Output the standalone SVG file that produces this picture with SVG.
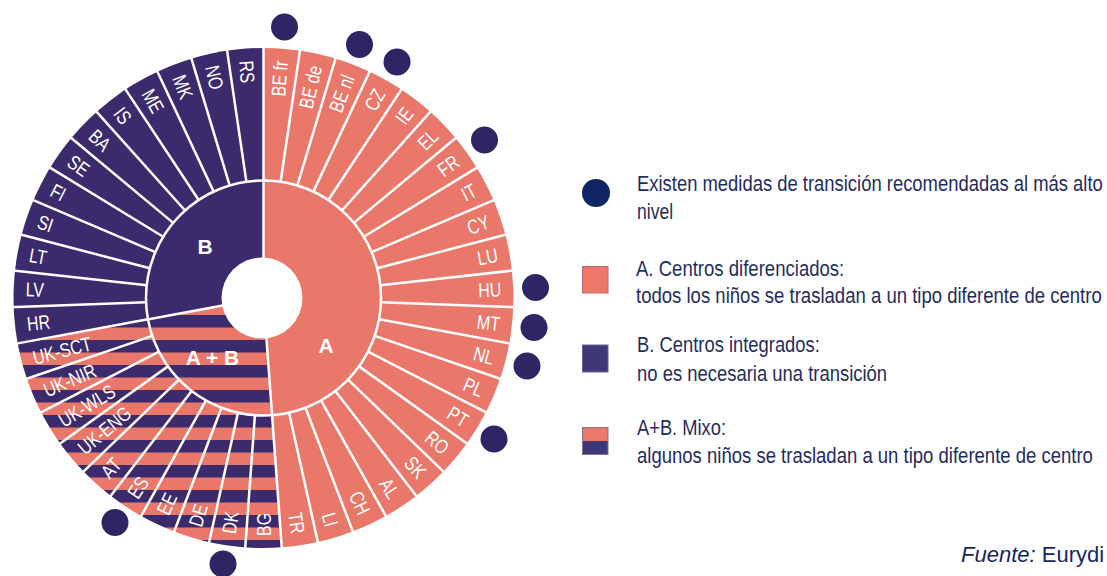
<svg xmlns="http://www.w3.org/2000/svg" xmlns:xlink="http://www.w3.org/1999/xlink" width="1107" height="576" viewBox="0 0 1107 576">
<style>
.pA{fill:#e9786a}
.pB{fill:#3b2b6c}
.sep{stroke:#fff;stroke-width:2.5}
.lbl{font-family:"Liberation Sans",Arial,sans-serif;font-size:20px;fill:#fff}
.r{text-anchor:end}
.l{text-anchor:start}
.big{font-family:"Liberation Sans",Arial,sans-serif;font-size:21px;font-weight:bold;fill:#fff;text-anchor:middle}
.dot{fill:#2e2565}
.lg{font-family:"Liberation Sans",Arial,sans-serif;font-size:22px;fill:#1f2d5e}
</style>
<defs>
<pattern id="mix" patternUnits="userSpaceOnUse" x="0" y="315" width="20" height="25">
<rect width="20" height="25" fill="#e9786a"/>
<rect width="20" height="12.5" fill="#3b2b6c"/>
</pattern>
<line id="sep" x1="263.5" y1="180.5" x2="263.5" y2="44" class="sep"/>
<line id="isep" x1="263.5" y1="262" x2="263.5" y2="180" class="sep"/>
</defs>
<rect width="1107" height="576" fill="#fff"/>
<g id="chart">
<g id="sectors">
<path id="sector-A" class="pA" d="M263.5,298 L263.5,48 A250,250 0 0 1 281.75,547.33 Z"/>
<path id="sector-AB" fill="url(#mix)" d="M263.5,298 L281.75,547.33 A250,250 0 0 1 17.66,343.41 Z"/>
<path id="sector-B" class="pB" d="M263.5,298 L17.66,343.41 A250,250 0 0 1 263.5,48 Z"/>
</g>
<g id="separators">
<use href="#sep" transform="rotate(0 263.5 298)"/>
<use href="#sep" transform="rotate(8.372 263.5 298)"/>
<use href="#sep" transform="rotate(16.744 263.5 298)"/>
<use href="#sep" transform="rotate(25.116 263.5 298)"/>
<use href="#sep" transform="rotate(33.488 263.5 298)"/>
<use href="#sep" transform="rotate(41.860 263.5 298)"/>
<use href="#sep" transform="rotate(50.233 263.5 298)"/>
<use href="#sep" transform="rotate(58.605 263.5 298)"/>
<use href="#sep" transform="rotate(66.977 263.5 298)"/>
<use href="#sep" transform="rotate(75.349 263.5 298)"/>
<use href="#sep" transform="rotate(83.721 263.5 298)"/>
<use href="#sep" transform="rotate(92.093 263.5 298)"/>
<use href="#sep" transform="rotate(100.465 263.5 298)"/>
<use href="#sep" transform="rotate(108.837 263.5 298)"/>
<use href="#sep" transform="rotate(117.209 263.5 298)"/>
<use href="#sep" transform="rotate(125.581 263.5 298)"/>
<use href="#sep" transform="rotate(133.953 263.5 298)"/>
<use href="#sep" transform="rotate(142.326 263.5 298)"/>
<use href="#sep" transform="rotate(150.698 263.5 298)"/>
<use href="#sep" transform="rotate(159.070 263.5 298)"/>
<use href="#sep" transform="rotate(167.442 263.5 298)"/>
<use href="#sep" transform="rotate(175.814 263.5 298)"/>
<use href="#sep" transform="rotate(184.186 263.5 298)"/>
<use href="#sep" transform="rotate(192.558 263.5 298)"/>
<use href="#sep" transform="rotate(200.930 263.5 298)"/>
<use href="#sep" transform="rotate(209.302 263.5 298)"/>
<use href="#sep" transform="rotate(217.674 263.5 298)"/>
<use href="#sep" transform="rotate(226.047 263.5 298)"/>
<use href="#sep" transform="rotate(234.419 263.5 298)"/>
<use href="#sep" transform="rotate(242.791 263.5 298)"/>
<use href="#sep" transform="rotate(251.163 263.5 298)"/>
<use href="#sep" transform="rotate(259.535 263.5 298)"/>
<use href="#sep" transform="rotate(267.907 263.5 298)"/>
<use href="#sep" transform="rotate(276.279 263.5 298)"/>
<use href="#sep" transform="rotate(284.651 263.5 298)"/>
<use href="#sep" transform="rotate(293.023 263.5 298)"/>
<use href="#sep" transform="rotate(301.395 263.5 298)"/>
<use href="#sep" transform="rotate(309.767 263.5 298)"/>
<use href="#sep" transform="rotate(318.140 263.5 298)"/>
<use href="#sep" transform="rotate(326.512 263.5 298)"/>
<use href="#sep" transform="rotate(334.884 263.5 298)"/>
<use href="#sep" transform="rotate(343.256 263.5 298)"/>
<use href="#sep" transform="rotate(351.628 263.5 298)"/>
<use href="#isep" transform="rotate(0 263.5 298)"/>
<use href="#isep" transform="rotate(175.814 263.5 298)"/>
<use href="#isep" transform="rotate(259.535 263.5 298)"/>
<circle cx="263.5" cy="298" r="117.5" fill="none" stroke="#fff" stroke-width="2.5"/>
<circle cx="262" cy="298" r="40.5" fill="#fff"/>
</g>
<g id="inner-labels">
<text class="big" x="205" y="254">B</text>
<text class="big" x="326" y="353">A</text>
<text class="big" x="212.5" y="365">A + B</text>
</g>
<g id="labels">
<text class="lbl r" dy="7" transform="translate(280.87,60.64) rotate(-85.81) scale(0.8,1)">BE fr</text>
<text class="lbl r" dy="7" transform="translate(315.25,65.69) rotate(-77.44) scale(0.8,1)">BE de</text>
<text class="lbl r" dy="7" transform="translate(348.52,75.70) rotate(-69.07) scale(0.8,1)">BE nl</text>
<text class="lbl r" dy="7" transform="translate(379.99,90.46) rotate(-60.70) scale(0.8,1)">CZ</text>
<text class="lbl r" dy="7" transform="translate(408.97,109.64) rotate(-52.33) scale(0.8,1)">IE</text>
<text class="lbl r" dy="7" transform="translate(434.87,132.84) rotate(-43.95) scale(0.8,1)">EL</text>
<text class="lbl r" dy="7" transform="translate(457.08,159.55) rotate(-35.58) scale(0.8,1)">FR</text>
<text class="lbl r" dy="7" transform="translate(475.16,189.17) rotate(-27.21) scale(0.8,1)">IT</text>
<text class="lbl r" dy="7" transform="translate(488.75,221.16) rotate(-18.84) scale(0.8,1)">CY</text>
<text class="lbl r" dy="7" transform="translate(497.54,254.77) rotate(-10.47) scale(0.8,1)">LU</text>
<text class="lbl r" dy="7" transform="translate(501.34,289.31) rotate(-2.09) scale(0.8,1)">HU</text>
<text class="lbl r" dy="7" transform="translate(500.07,324.03) rotate(6.28) scale(0.8,1)">MT</text>
<text class="lbl r" dy="7" transform="translate(493.76,358.19) rotate(14.65) scale(0.8,1)">NL</text>
<text class="lbl r" dy="7" transform="translate(482.54,391.07) rotate(23.02) scale(0.8,1)">PL</text>
<text class="lbl r" dy="7" transform="translate(466.65,422.0) rotate(31.40) scale(0.8,1)">PT</text>
<text class="lbl r" dy="7" transform="translate(446.40,450.28) rotate(39.77) scale(0.8,1)">RO</text>
<text class="lbl r" dy="7" transform="translate(422.35,475.22) rotate(48.14) scale(0.8,1)">SK</text>
<text class="lbl r" dy="7" transform="translate(394.83,496.49) rotate(56.51) scale(0.8,1)">AL</text>
<text class="lbl r" dy="7" transform="translate(364.53,513.49) rotate(64.88) scale(0.8,1)">CH</text>
<text class="lbl r" dy="7" transform="translate(332.07,525.91) rotate(73.26) scale(0.8,1)">LI</text>
<text class="lbl r" dy="7" transform="translate(298.15,533.46) rotate(81.63) scale(0.8,1)">TR</text>
<text class="lbl l" dy="7" transform="translate(263.5,536) rotate(-90) scale(0.8,1)">BG</text>
<text class="lbl l" dy="7" transform="translate(228.85,533.46) rotate(-81.63) scale(0.8,1)">DK</text>
<text class="lbl l" dy="7" transform="translate(194.93,525.91) rotate(-73.26) scale(0.8,1)">DE</text>
<text class="lbl l" dy="7" transform="translate(162.47,513.49) rotate(-64.88) scale(0.8,1)">EE</text>
<text class="lbl l" dy="7" transform="translate(132.17,496.49) rotate(-56.51) scale(0.8,1)">ES</text>
<text class="lbl l" dy="7" transform="translate(104.65,475.22) rotate(-48.14) scale(0.8,1)">AT</text>
<text class="lbl l" dy="7" transform="translate(80.60,450.28) rotate(-39.77) scale(0.8,1)">UK-ENG</text>
<text class="lbl l" dy="7" transform="translate(60.35,422.0) rotate(-31.40) scale(0.8,1)">UK-WLS</text>
<text class="lbl l" dy="7" transform="translate(44.46,391.07) rotate(-23.02) scale(0.8,1)">UK-NIR</text>
<text class="lbl l" dy="7" transform="translate(33.24,358.19) rotate(-14.65) scale(0.8,1)">UK-SCT</text>
<text class="lbl l" dy="7" transform="translate(26.93,324.03) rotate(-6.28) scale(0.8,1)">HR</text>
<text class="lbl l" dy="7" transform="translate(25.66,289.31) rotate(2.09) scale(0.8,1)">LV</text>
<text class="lbl l" dy="7" transform="translate(29.46,254.77) rotate(10.47) scale(0.8,1)">LT</text>
<text class="lbl l" dy="7" transform="translate(38.25,221.16) rotate(18.84) scale(0.8,1)">SI</text>
<text class="lbl l" dy="7" transform="translate(51.84,189.17) rotate(27.21) scale(0.8,1)">FI</text>
<text class="lbl l" dy="7" transform="translate(69.92,159.55) rotate(35.58) scale(0.8,1)">SE</text>
<text class="lbl l" dy="7" transform="translate(92.13,132.84) rotate(43.95) scale(0.8,1)">BA</text>
<text class="lbl l" dy="7" transform="translate(118.03,109.64) rotate(52.33) scale(0.8,1)">IS</text>
<text class="lbl l" dy="7" transform="translate(147.01,90.46) rotate(60.70) scale(0.8,1)">ME</text>
<text class="lbl l" dy="7" transform="translate(178.48,75.70) rotate(69.07) scale(0.8,1)">MK</text>
<text class="lbl l" dy="7" transform="translate(211.75,65.69) rotate(77.44) scale(0.8,1)">NO</text>
<text class="lbl l" dy="7" transform="translate(246.13,60.64) rotate(85.81) scale(0.8,1)">RS</text>
</g>
<g id="dots">
<circle class="dot" cx="284.5" cy="27" r="13.5"/>
<circle class="dot" cx="359.5" cy="44.5" r="13.5"/>
<circle class="dot" cx="397" cy="62" r="13.5"/>
<circle class="dot" cx="484.5" cy="140" r="13.5"/>
<circle class="dot" cx="535.5" cy="287.5" r="13.5"/>
<circle class="dot" cx="534" cy="327.5" r="13.5"/>
<circle class="dot" cx="527" cy="366" r="13.5"/>
<circle class="dot" cx="494" cy="439" r="13.5"/>
<circle class="dot" cx="115" cy="522.5" r="13.5"/>
<circle class="dot" cx="223" cy="564" r="13.5"/>
</g>
</g>
<g id="legend">
<g id="legend-dot">
<circle cx="596" cy="193" r="14" fill="#0f2462"/>
<text class="lg" transform="translate(637,191) scale(0.82,1)" textLength="568" lengthAdjust="spacingAndGlyphs">Existen medidas de transición recomendadas al más alto</text>
<text class="lg" transform="translate(637,219) scale(0.82,1)" textLength="44" lengthAdjust="spacingAndGlyphs">nivel</text>
</g>
<g id="legend-A">
<rect x="582.5" y="266.5" width="25.5" height="26.5" fill="#ec7868" stroke="#b86a78" stroke-width="1"/>
<text class="lg" transform="translate(636,275.5) scale(0.82,1)" textLength="254" lengthAdjust="spacingAndGlyphs">A. Centros diferenciados:</text>
<text class="lg" transform="translate(636,303) scale(0.82,1)" textLength="568" lengthAdjust="spacingAndGlyphs">todos los niños se trasladan a un tipo diferente de centro</text>
</g>
<g id="legend-B">
<rect x="582.5" y="345" width="25.5" height="27" fill="#3f3878" stroke="#6a6496" stroke-width="1"/>
<text class="lg" transform="translate(637,352) scale(0.82,1)" textLength="223" lengthAdjust="spacingAndGlyphs">B. Centros integrados:</text>
<text class="lg" transform="translate(637,380.5) scale(0.82,1)" textLength="305" lengthAdjust="spacingAndGlyphs">no es necesaria una transición</text>
</g>
<g id="legend-AB">
<rect x="582.5" y="427.5" width="25.5" height="13.5" fill="#ec7868"/>
<rect x="582.5" y="441" width="25.5" height="13.5" fill="#3f3878"/>
<rect x="582.5" y="427.5" width="25.5" height="27" fill="none" stroke="#8a7090" stroke-width="1"/>
<text class="lg" transform="translate(637,434.5) scale(0.82,1)" textLength="108.5" lengthAdjust="spacingAndGlyphs">A+B. Mixo:</text>
<text class="lg" transform="translate(637,462.5) scale(0.82,1)" textLength="556" lengthAdjust="spacingAndGlyphs">algunos niños se trasladan a un tipo diferente de centro</text>
</g>
<text id="source" x="961" y="562" font-family="Liberation Sans, Arial, sans-serif" font-size="22" fill="#15285e"><tspan font-style="italic">Fuente:</tspan> Eurydi</text>
</g>
</svg>
